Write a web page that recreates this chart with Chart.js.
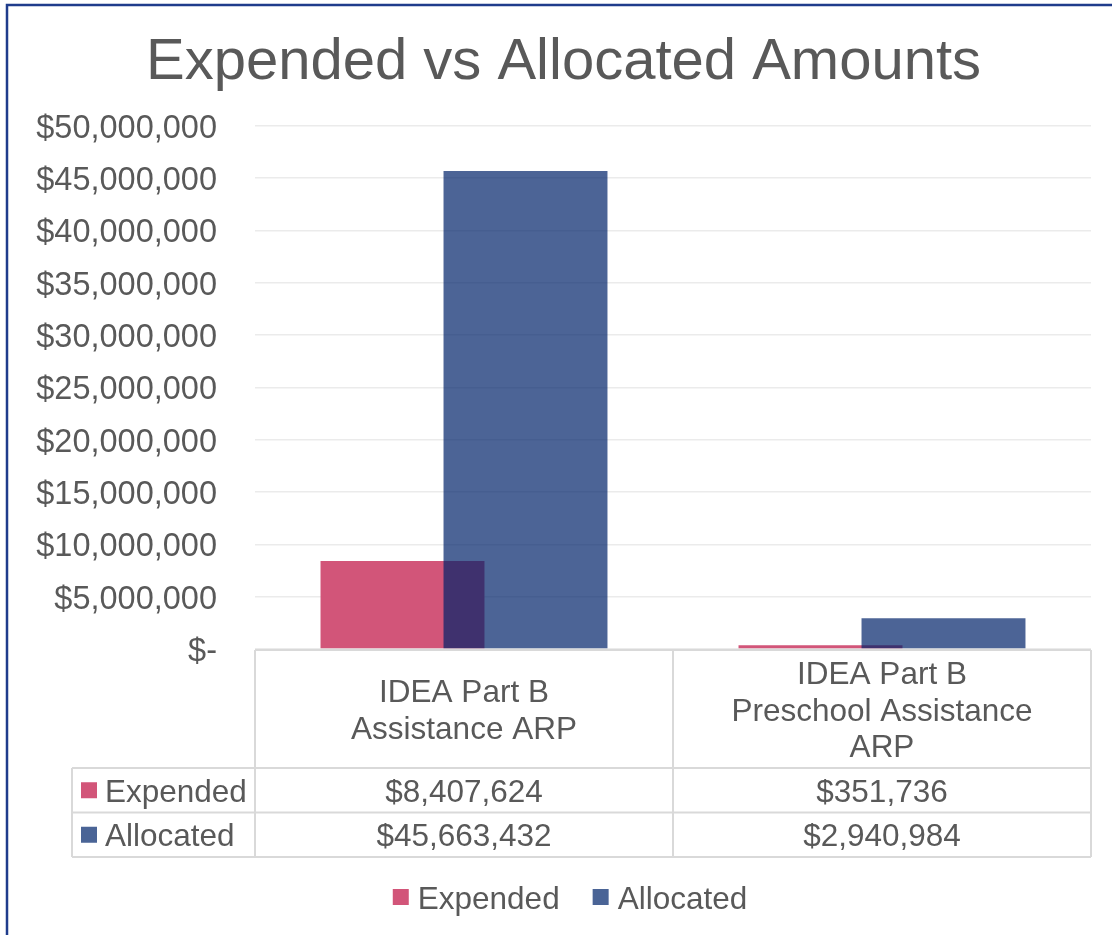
<!DOCTYPE html>
<html>
<head>
<meta charset="utf-8">
<script src="https://cdn.jsdelivr.net/npm/chart.js@4.4.1/dist/chart.umd.min.js"></script>
<style>
	html, body { margin: 0; padding: 0; background: #ffffff; overflow: hidden; }
	#amount-chart { display: block; }
</style>
</head>
<body>
<canvas id="amount-chart" width="1112" height="935"></canvas>
<script>
// 카테고리 (여러 줄 라벨)
var categories = [
	['IDEA Part B', 'Assistance ARP'],
	['IDEA Part B', 'Preschool Assistance', 'ARP']
];
// 시리즈 값
var seriesNames = ['Expended', 'Allocated'];
var expendedValues = [8407624, 351736];
var allocatedValues = [45663432, 2940984];
// Y축 눈금
var yTickMax = 50000000;
var yTickStep = 5000000;

var FONT = '"Liberation Sans", Arial, sans-serif';
var TEXT_COLOR = '#595959';
var LINE_COLOR = '#d9d9d9';
var EXPENDED_COLOR = 'rgb(210, 85, 121)';
var ALLOCATED_COLOR = 'rgba(0, 34, 105, 0.7)';
var ALLOCATED_SWATCH = 'rgb(74, 100, 150)';
// 텍스트 세로 보정
var TEXT_SHIFT = 3;

var AmountChart;

/**
 * 금액 포맷
 * @param v
 * @returns
 */
function formatMoney(v) {
	if (v === 0) return '$-';
	return '$' + v.toLocaleString('en-US');
}

// 테두리 그리기
var framePlugin = {
	id : 'frame',
	beforeDraw : function(chart) {
		var ctx = chart.ctx;
		ctx.save();
		ctx.fillStyle = '#ffffff';
		ctx.fillRect(0, 0, chart.width, chart.height);
		ctx.strokeStyle = '#1f3c8c';
		ctx.lineWidth = 2.5;
		ctx.beginPath();
		ctx.moveTo(7, chart.height);
		ctx.lineTo(7, 5);
		ctx.lineTo(chart.width, 5);
		ctx.stroke();
		ctx.restore();
	}
};

// Allocated 막대를 Expended 위에 그리기
var drawOrderPlugin = {
	id : 'drawOrder',
	beforeDatasetsDraw : function(chart) {
		chart.getDatasetMeta(0).controller.draw();
	},
	beforeDatasetDraw : function(chart, args) {
		if (args.index === 0) return false;
	}
};

// 데이터 테이블 + 범례
var dataTablePlugin = {
	id : 'dataTable',
	afterDraw : function(chart) {
		var ctx = chart.ctx;
		var area = chart.chartArea;
		var xScale = chart.scales.x;
		var half = (area.right - area.left) / categories.length / 2;

		var top = area.bottom + 1;
		var headBottom = top + 118;
		var rowH = 44.5;
		var tableLeft = 72;
		var rows = [
			{ name : seriesNames[0], color : EXPENDED_COLOR, values : expendedValues },
			{ name : seriesNames[1], color : ALLOCATED_SWATCH, values : allocatedValues }
		];
		var tableBottom = headBottom + rowH * rows.length;

		ctx.save();
		// 선
		ctx.strokeStyle = LINE_COLOR;
		ctx.lineWidth = 2;
		ctx.beginPath();
		ctx.moveTo(area.left, top);
		ctx.lineTo(area.right, top);
		for (var r = 0; r <= rows.length; r++) {
			ctx.moveTo(tableLeft, headBottom + rowH * r);
			ctx.lineTo(area.right, headBottom + rowH * r);
		}
		ctx.moveTo(tableLeft, headBottom);
		ctx.lineTo(tableLeft, tableBottom);
		for (var c = 0; c <= categories.length; c++) {
			var lx = area.left + half * 2 * c;
			ctx.moveTo(lx, top);
			ctx.lineTo(lx, tableBottom);
		}
		ctx.stroke();

		// 카테고리 라벨
		ctx.fillStyle = TEXT_COLOR;
		ctx.font = '31.5px ' + FONT;
		ctx.textAlign = 'center';
		ctx.textBaseline = 'middle';
		var lineH = 36.5;
		categories.forEach(function(lines, i) {
			var cx = xScale.getPixelForValue(i);
			var cy = (top + headBottom) / 2 - (lines.length - 1) * lineH / 2 + TEXT_SHIFT;
			lines.forEach(function(t, j) {
				ctx.fillText(t, cx, cy + j * lineH);
			});
		});

		// 행
		rows.forEach(function(row, r) {
			var cy = headBottom + rowH * r + rowH / 2;
			ctx.fillStyle = row.color;
			ctx.fillRect(81, cy - 8, 16, 16);
			ctx.fillStyle = TEXT_COLOR;
			ctx.textAlign = 'left';
			ctx.fillText(row.name, 105, cy + TEXT_SHIFT);
			ctx.textAlign = 'center';
			row.values.forEach(function(v, i) {
				ctx.fillText(formatMoney(v), xScale.getPixelForValue(i), cy + TEXT_SHIFT);
			});
		});

		// 범례
		var ly = 897;
		var widths = rows.map(function(row) { return 16 + 9 + ctx.measureText(row.name).width; });
		var gap = 33;
		var total = widths[0] + widths[1] + gap;
		var lx0 = 570 - total / 2;
		ctx.textAlign = 'left';
		rows.forEach(function(row, r) {
			ctx.fillStyle = row.color;
			ctx.fillRect(lx0, ly - 8, 16, 16);
			ctx.fillStyle = TEXT_COLOR;
			ctx.fillText(row.name, lx0 + 25, ly + TEXT_SHIFT);
			lx0 += widths[r] + gap;
		});
		ctx.restore();
	}
};

/**
 * 차트 생성하기
 * @returns
 */
function createChart() {
	var canvas = document.getElementById('amount-chart');

	AmountChart = new Chart(canvas, {
		type : 'bar',
		data : {
			labels : categories,
			datasets : [ {
				label : seriesNames[0],
				data : expendedValues,
				backgroundColor : EXPENDED_COLOR,
				borderWidth : 0,
			}, {
				label : seriesNames[1],
				data : allocatedValues,
				backgroundColor : ALLOCATED_COLOR,
				borderWidth : 0,
			} ]
		},
		options : {
			responsive : false,
			devicePixelRatio : 1,
			animation : false,
			categoryPercentage : 0.5885,
			barPercentage : 1.333,
			layout : {
				padding : { top : 0, left : 36, right : 21, bottom : 286 }
			},
			plugins : {
				legend : { display : false },
				tooltip : { enabled : false },
				title : {
					display : true,
					text : 'Expended vs Allocated Amounts',
					color : TEXT_COLOR,
					font : { family : FONT, size : 58, weight : 'normal' },
					padding : { top : 28, bottom : 28 }
				}
			},
			scales : {
				x : {
					display : false,
					offset : true,
				},
				y : {
					min : 0,
					max : yTickMax,
					border : { display : false },
					grid : {
						color : '#ebebeb',
						lineWidth : 1.5,
						drawTicks : false,
					},
					ticks : {
						stepSize : yTickStep,
						padding : 38,
						labelOffset : TEXT_SHIFT,
						color : TEXT_COLOR,
						font : { family : FONT, size : 32.5 },
						callback : function(v) { return formatMoney(v); }
					},
					afterFit : function(scale) {
						scale.width = 219;
					}
				}
			}
		},
		plugins : [ framePlugin, drawOrderPlugin, dataTablePlugin ]
	});
}

createChart();
</script>
</body>
</html>
